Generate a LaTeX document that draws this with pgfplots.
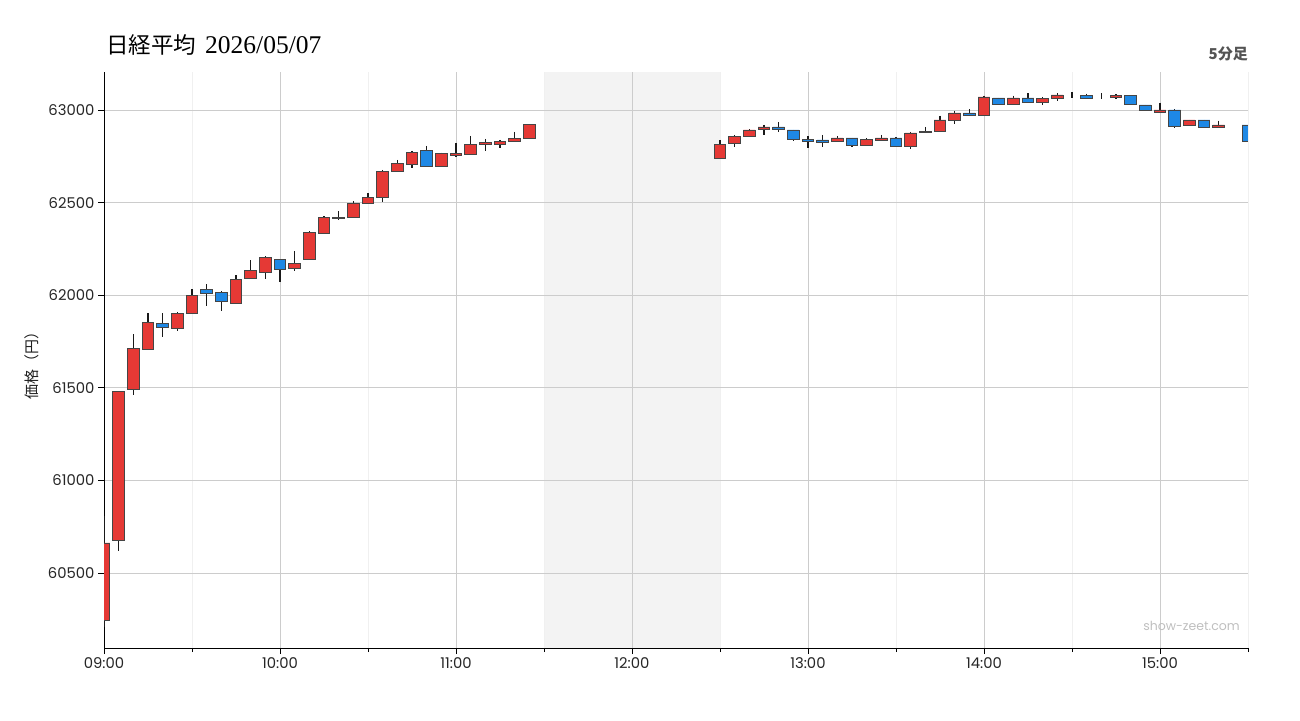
\documentclass[border=0pt]{standalone}
\usepackage{fontspec}
\setmainfont{Poppins}
\newfontfamily\cjk{Noto Sans CJK JP}
\newfontfamily\serif{Liberation Serif}
\usepackage{pgfplots}
\pgfplotsset{compat=1.18}
\usepackage{pgfplotstable}

\definecolor{upred}{HTML}{E53935}
\definecolor{dnblue}{HTML}{1E88E5}
\definecolor{bord}{HTML}{454545}
\definecolor{gridc}{HTML}{CCCCCC}
\definecolor{minorc}{HTML}{F0F0F0}
\definecolor{shade}{HTML}{F3F3F3}

% t = minutes after 09:00, o h l c
\pgfplotstableread{
t o h l c
0 60242 60806 60211 60662
5 60678 61480 60617 61479
10 61490 61789 61461 61712
15 61706 61903 61706 61852
20 61847 61903 61774 61825
25 61820 61910 61807 61901
30 61901 62032 61901 61998
35 62031 62060 61942 62009
40 62015 62020 61915 61969
45 61955 62108 61951 62085
50 62090 62189 62087 62134
55 62123 62209 62087 62204
60 62193 62195 62072 62139
65 62142 62238 62130 62171
70 62191 62346 62191 62339
75 62334 62426 62334 62420
80 62418 62454 62404 62417
85 62420 62507 62420 62496
90 62496 62552 62496 62529
95 62529 62676 62505 62669
100 62669 62730 62669 62712
105 62707 62779 62689 62772
110 62783 62806 62696 62696
115 62696 62770 62696 62767
120 62756 62822 62748 62767
125 62761 62860 62756 62815
130 62815 62844 62779 62826
135 62815 62838 62795 62831
140 62831 62882 62826 62848
145 62848 62923 62848 62920
210 62738 62839 62738 62816
215 62821 62865 62798 62859
220 62859 62897 62852 62892
225 62897 62919 62865 62908
230 62908 62933 62881 62897
235 62892 62892 62830 62843
240 62843 62859 62794 62832
245 62838 62866 62800 62827
250 62832 62859 62832 62849
255 62849 62849 62800 62811
260 62811 62846 62805 62843
265 62838 62866 62832 62849
270 62849 62854 62805 62805
275 62805 62881 62787 62876
280 62881 62908 62876 62886
285 62886 62969 62879 62946
290 62946 62995 62924 62984
295 62984 63005 62965 62973
300 62973 63077 62973 63070
305 63065 63065 63025 63032
310 63032 63077 63025 63065
315 63065 63090 63043 63043
320 63043 63070 63025 63060
325 63060 63090 63047 63081
330 63083 63095 63063 63083
335 63076 63088 63057 63065
340 63070 63090 63060 63070
345 63070 63084 63057 63077
350 63076 63076 63025 63032
355 63027 63027 62992 63000
360 62989 63040 62982 63000
365 63000 63005 62900 62913
370 62919 62946 62913 62946
375 62946 62946 62905 62908
380 62908 62942 62908 62919
385 62919 62919 62919 62919
390 62919 62919 62832 62832
}\candles

\pgfplotsset{base/.style={at={(104pt,72pt)}, anchor=south west, scale only axis,
  width=1144pt, height=576pt, xmin=0, xmax=390, ymin=60095, ymax=63205}}

\begin{document}
\begin{tikzpicture}
\path[use as bounding box] (0,0) rectangle (1300pt,720pt);

% lunch break shading
\begin{axis}[base, hide axis]
\addplot[fill=shade, draw=none] coordinates {(150,60095) (150,63205) (210,63205) (210,60095)} -- cycle;
\end{axis}

% frame, grid, wicks
\begin{axis}[base,
  axis x line*=bottom, axis y line*=left,
  axis line style={black, line width=1pt},
  xtick={0,60,120,180,240,300,360},
  xticklabels={09:00,10:00,11:00,12:00,13:00,14:00,15:00},
  minor xtick={30,90,150,210,270,330,390},
  ytick={60500,61000,61500,62000,62500,63000},
  scaled y ticks=false,
  xmajorgrids, ymajorgrids, xminorgrids,
  major grid style={gridc, line width=0.8pt},
  minor grid style={minorc, line width=0.8pt},
  tick align=outside, major tick length=6pt, minor tick length=4pt,
  tick style={black, line width=0.8pt},
  ticklabel style={font=\fontsize{14.8}{17}\selectfont, text=black!85},
  yticklabel style={/pgf/number format/fixed, /pgf/number format/precision=0},
  /pgf/number format/1000 sep={},
  /pgf/number format/assume math mode=true,
]
\addplot[draw=none, mark=none,
  error bars/.cd, y dir=minus, y explicit, error mark=none,
  error bar style={draw=black!90, line width=1.4pt}]
  table[x=t, y=h, y error minus expr=\thisrow{h}-\thisrow{l}] {\candles};
\end{axis}

% bodies
\begin{axis}[base, hide axis, ybar stacked, bar width=4]
\addplot[draw=none, fill=none] table[x=t, y expr={min(\thisrow{o},\thisrow{c})}] {\candles};
\addplot[fill=upred, draw=bord, line width=0.8pt] table[x=t, y expr={max(\thisrow{c}-\thisrow{o},0)}] {\candles};
\addplot[fill=dnblue, draw=bord, line width=0.8pt] table[x=t, y expr={max(\thisrow{o}-\thisrow{c},0)}] {\candles};
\end{axis}

\node[anchor=base west, inner sep=0] at (106pt,666pt)
  {\cjk\fontsize{22.5}{26}\selectfont 日経平均\hspace{9pt}\serif\fontsize{25.5}{30}\selectfont 2026/05/07};
\node[anchor=base east, inner sep=0, text=black!67] at (1248pt,660pt)
  {\cjk\bfseries\fontsize{15}{18}\selectfont 5分足};
\node[rotate=90, inner sep=0, text=black!87] at (32pt,358pt)
  {\cjk\fontsize{15}{18}\selectfont 価格（円）};
\node[anchor=base east, inner sep=0, text=black!25] at (1240pt,89pt)
  {\fontsize{12.5}{15}\selectfont show-zeet.com};
\end{tikzpicture}
\end{document}
